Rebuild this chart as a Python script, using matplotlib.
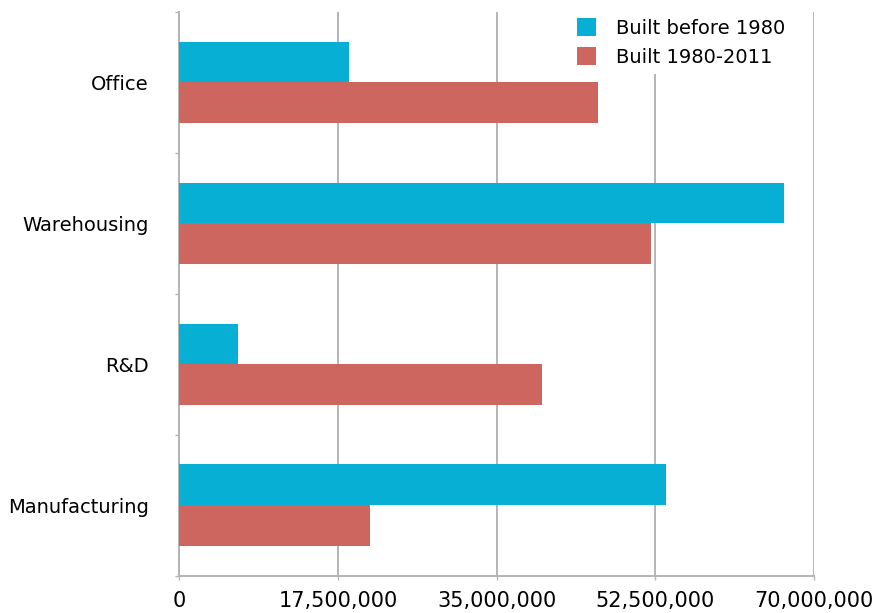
import matplotlib.pyplot as plt
from matplotlib.ticker import FuncFormatter

categories = ["Office", "Warehousing", "R&D", "Manufacturing"]
built_before_1980 = [18_700_000, 66_700_000, 6_500_000, 53_700_000]
built_1980_2011 = [46_200_000, 52_000_000, 40_000_000, 21_000_000]
x_ticks = [0, 17_500_000, 35_000_000, 52_500_000, 70_000_000]

blue = "#07AFD5"
red = "#CD665F"
grid_gray = "#B4B4B4"

plt.rcParams["font.family"] = ["DejaVu Sans"]

fig = plt.figure(figsize=(8.77, 6.13), dpi=100)
ax = fig.add_axes([0.2045, 0.0607, 0.7235, 0.9197])

# Office at the top, Manufacturing at the bottom
pos = list(range(len(categories) - 1, -1, -1))
h = 0.29
ax.barh([p + h / 2 for p in pos], built_before_1980, height=h, color=blue,
        label="Built before 1980", zorder=3)
ax.barh([p - h / 2 for p in pos], built_1980_2011, height=h, color=red,
        label="Built 1980-2011", zorder=3)

ax.set_xlim(0, 70_000_000)
ax.set_ylim(-0.5, len(categories) - 0.5)
ax.set_xticks(x_ticks)
ax.xaxis.set_major_formatter(FuncFormatter(lambda v, _: f"{int(v):,}"))
ax.grid(axis="x", color=grid_gray, linewidth=1.4, zorder=0)

# category labels sit between the boundary ticks
ax.set_yticks(pos)
ax.set_yticklabels(categories)
ax.set_yticks([i - 0.5 for i in range(len(categories) + 1)], minor=True)
ax.tick_params(axis="y", which="major", length=0, pad=22, labelsize=14)
ax.tick_params(axis="y", which="minor", length=3, width=1, color=grid_gray)
ax.tick_params(axis="x", length=3, width=1, color=grid_gray, pad=8, labelsize=15)

for side in ("top", "right"):
    ax.spines[side].set_visible(False)
for side in ("left", "bottom"):
    ax.spines[side].set_color(grid_gray)
    ax.spines[side].set_linewidth(1.4)

ax.legend(loc="upper left", bbox_to_anchor=(0.649, 0.983),
          bbox_transform=fig.transFigure, fontsize=14, frameon=True,
          facecolor="white", edgecolor="none", framealpha=1,
          handlelength=1.0, handleheight=1.0, handletextpad=1.0,
          labelspacing=0.5, borderpad=0.4, borderaxespad=0)

fig.savefig("out.png", dpi=100)
